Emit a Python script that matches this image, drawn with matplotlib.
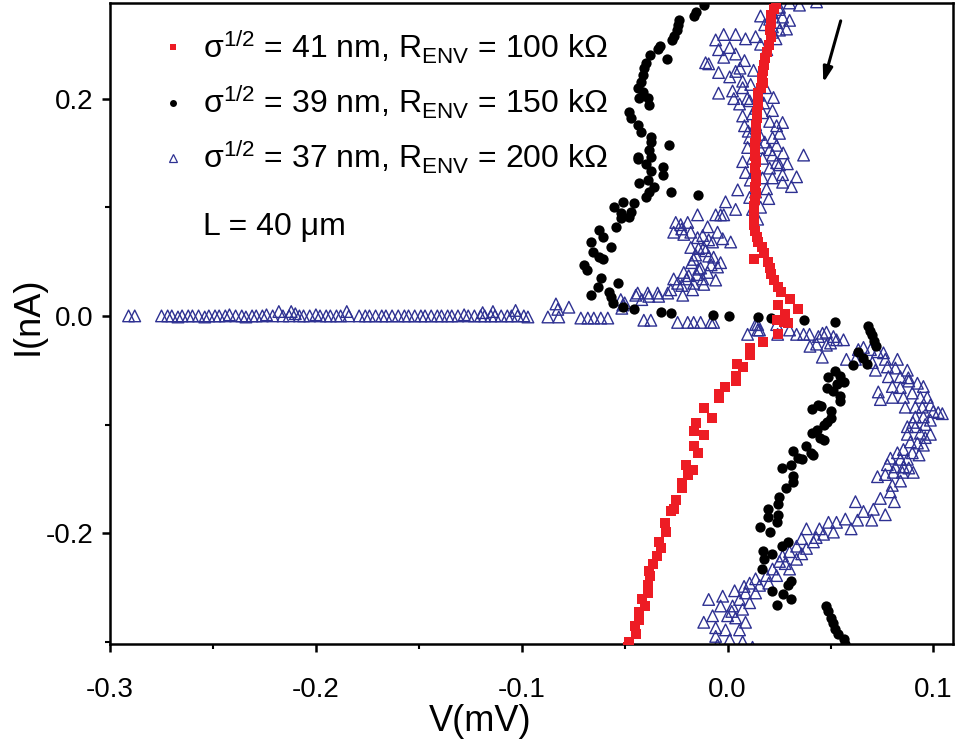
import numpy as np
import matplotlib
matplotlib.use("Agg")
import matplotlib.pyplot as plt
from matplotlib.lines import Line2D

plt.rcParams['font.family'] = ['Liberation Sans', 'DejaVu Sans']
plt.rcParams['mathtext.fontset'] = 'custom'
plt.rcParams['mathtext.rm'] = 'Liberation Sans'
plt.rcParams['mathtext.it'] = 'Liberation Sans'

# I-V curves, V in mV, I in nA
red_pts = [
    (0.0233, 0.287), (0.0223, 0.282), (0.0213, 0.277), (0.0209, 0.270), (0.0204, 0.263),
    (0.0209, 0.257), (0.0199, 0.249), (0.0189, 0.243), (0.0184, 0.237), (0.0179, 0.231),
    (0.0170, 0.225), (0.0165, 0.219), (0.0170, 0.214), (0.0160, 0.210), (0.0150, 0.205),
    (0.0146, 0.200), (0.0146, 0.194), (0.0141, 0.188), (0.0141, 0.182), (0.0136, 0.176),
    (0.0136, 0.170), (0.0136, 0.165), (0.0131, 0.159), (0.0131, 0.153), (0.0131, 0.147),
    (0.0136, 0.142), (0.0131, 0.136), (0.0136, 0.130), (0.0136, 0.124), (0.0131, 0.119),
    (0.0136, 0.113), (0.0131, 0.107), (0.0126, 0.101), (0.0126, 0.096), (0.0126, 0.090),
    (0.0126, 0.084), (0.0131, 0.078), (0.0141, 0.073), (0.0150, 0.068), (0.0165, 0.063),
    (0.0179, 0.058), (0.0126, 0.052), (0.0194, 0.050), (0.0204, 0.044), (0.0209, 0.039),
    (0.0223, 0.033), (0.0243, 0.027), (0.0257, 0.022), (0.0301, 0.016), (0.0247, 0.010),
    (0.0340, 0.006), (0.0281, 0.002), (0.0238, -0.004), (0.0272, -0.006), (0.0291, -0.007),
    (0.0243, -0.017), (0.0170, -0.024), (0.0107, -0.030), (0.0107, -0.036), (0.0044, -0.044),
    (0.0073, -0.047), (0.0039, -0.055), (0.0039, -0.060), (-0.0015, -0.065), (-0.0044, -0.072),
    (-0.0044, -0.076), (-0.0116, -0.085), (-0.0078, -0.094), (-0.0155, -0.099), (-0.0165, -0.106),
    (-0.0116, -0.110), (-0.0165, -0.120), (-0.0146, -0.126), (-0.0204, -0.137), (-0.0170, -0.142),
    (-0.0194, -0.146), (-0.0223, -0.154), (-0.0223, -0.158), (-0.0252, -0.169), (-0.0262, -0.178),
    (-0.0276, -0.180), (-0.0306, -0.191), (-0.0301, -0.199), (-0.0335, -0.208), (-0.0325, -0.214),
    (-0.0344, -0.221), (-0.0364, -0.228), (-0.0383, -0.235), (-0.0378, -0.239), (-0.0388, -0.248),
    (-0.0388, -0.255), (-0.0417, -0.261), (-0.0403, -0.267), (-0.0432, -0.273), (-0.0432, -0.280),
    (-0.0451, -0.285), (-0.0446, -0.293), (-0.0480, -0.300), (-0.0485, -0.305),
]

black_pts = [
    (-0.0116, 0.286), (-0.0155, 0.280), (-0.0165, 0.276), (-0.0238, 0.272), (-0.0243, 0.268),
    (-0.0247, 0.263), (-0.0262, 0.258), (-0.0272, 0.254), (-0.0330, 0.248), (-0.0340, 0.246),
    (-0.0378, 0.240), (-0.0296, 0.236), (-0.0398, 0.233), (-0.0407, 0.228), (-0.0412, 0.222),
    (-0.0422, 0.215), (-0.0437, 0.210), (-0.0412, 0.206), (-0.0432, 0.201), (-0.0388, 0.201),
    (-0.0383, 0.194), (-0.0480, 0.188), (-0.0470, 0.182), (-0.0437, 0.176), (-0.0422, 0.169),
    (-0.0373, 0.165), (-0.0373, 0.160), (-0.0286, 0.157), (-0.0383, 0.153), (-0.0437, 0.146),
    (-0.0373, 0.146), (-0.0437, 0.144), (-0.0398, 0.140), (-0.0315, 0.137), (-0.0373, 0.133),
    (-0.0315, 0.130), (-0.0388, 0.125), (-0.0432, 0.122), (-0.0359, 0.119), (-0.0383, 0.114),
    (-0.0276, 0.114), (-0.0146, 0.111), (-0.0398, 0.109), (-0.0509, 0.105), (-0.0456, 0.104),
    (-0.0553, 0.100), (-0.0470, 0.096), (-0.0519, 0.095), (-0.0480, 0.091), (-0.0519, 0.090),
    (-0.0543, 0.082), (-0.0626, 0.079), (-0.0606, 0.073), (-0.0664, 0.068), (-0.0567, 0.063),
    (-0.0655, 0.059), (-0.0626, 0.054), (-0.0606, 0.052), (-0.0698, 0.047), (-0.0684, 0.042),
    (-0.0616, 0.035), (-0.0534, 0.030), (-0.0631, 0.027), (-0.0577, 0.022), (-0.0664, 0.019),
    (-0.0567, 0.017), (-0.0558, 0.012), (-0.0509, 0.008), (-0.0456, 0.006), (-0.0325, 0.004),
    (-0.0276, 0.003), (-0.0073, 0.001), (0.0005, 0.000), (0.0150, -0.001), (0.0209, -0.002),
    (0.0369, -0.004), (0.0524, -0.006),
    (0.0684, -0.009), (0.0694, -0.014), (0.0703, -0.018), (0.0713, -0.023), (0.0723, -0.028),
    (0.0631, -0.033), (0.0660, -0.039), (0.0679, -0.044), (0.0611, -0.045), (0.0524, -0.051),
    (0.0548, -0.055), (0.0490, -0.056), (0.0563, -0.061), (0.0529, -0.063), (0.0485, -0.066),
    (0.0514, -0.069), (0.0548, -0.074), (0.0548, -0.078), (0.0441, -0.082), (0.0456, -0.083),
    (0.0412, -0.086), (0.0500, -0.088), (0.0500, -0.094), (0.0485, -0.098), (0.0466, -0.100),
    (0.0432, -0.105), (0.0412, -0.108), (0.0451, -0.112), (0.0466, -0.114), (0.0383, -0.120),
    (0.0320, -0.124), (0.0403, -0.126), (0.0417, -0.128), (0.0344, -0.131), (0.0359, -0.132),
    (0.0310, -0.137), (0.0262, -0.140), (0.0320, -0.147), (0.0320, -0.153), (0.0286, -0.158),
    (0.0252, -0.167), (0.0243, -0.173), (0.0194, -0.178), (0.0243, -0.183), (0.0194, -0.185),
    (0.0238, -0.190), (0.0155, -0.194), (0.0204, -0.199), (0.0291, -0.208), (0.0262, -0.212),
    (0.0170, -0.216), (0.0218, -0.219), (0.0179, -0.224), (0.0165, -0.233), (0.0310, -0.244),
    (0.0291, -0.248), (0.0218, -0.253), (0.0267, -0.256), (0.0310, -0.261), (0.0238, -0.266),
    (0.0480, -0.267), (0.0490, -0.272), (0.0504, -0.278), (0.0514, -0.283), (0.0524, -0.288),
    (0.0538, -0.293), (0.0563, -0.297), (0.0572, -0.302),
]

# flat branch at I = 0 for large negative V
blue_flat = [
    (-0.291, 0.000), (-0.288, 0.000),
    (-0.275, 0.000), (-0.272, 0.000), (-0.270, 0.000), (-0.267, -0.001), (-0.265, 0.000),
    (-0.262, 0.000), (-0.260, 0.000), (-0.257, 0.000), (-0.254, -0.001), (-0.252, 0.000),
    (-0.249, 0.000), (-0.247, 0.000), (-0.244, 0.000), (-0.242, 0.001), (-0.239, 0.000),
    (-0.236, 0.000), (-0.234, -0.001), (-0.231, 0.000), (-0.229, 0.000), (-0.226, 0.000),
    (-0.224, 0.001), (-0.221, 0.000), (-0.218, 0.004), (-0.216, 0.000), (-0.213, 0.000),
    (-0.212, 0.004), (-0.210, 0.002), (-0.208, 0.000), (-0.206, 0.000), (-0.203, 0.000),
    (-0.200, 0.001), (-0.198, 0.000), (-0.195, 0.000), (-0.193, 0.000), (-0.190, 0.000),
    (-0.188, 0.000), (-0.185, 0.004), (-0.184, 0.000),
    (-0.179, 0.000), (-0.176, 0.000), (-0.174, 0.000), (-0.171, 0.000), (-0.168, 0.000),
    (-0.166, 0.000), (-0.163, 0.000), (-0.160, 0.000), (-0.157, 0.000), (-0.155, 0.000),
    (-0.152, 0.000), (-0.149, 0.000), (-0.147, 0.000), (-0.144, 0.000), (-0.141, 0.000),
    (-0.139, 0.000), (-0.136, 0.000),
    (-0.134, 0.000), (-0.131, 0.000), (-0.128, 0.001), (-0.126, 0.000), (-0.123, 0.000),
    (-0.120, 0.000), (-0.119, 0.003), (-0.118, 0.000), (-0.115, 0.000), (-0.114, 0.004),
    (-0.113, 0.000), (-0.110, 0.000), (-0.107, 0.000), (-0.105, 0.000), (-0.103, 0.005),
    (-0.102, 0.000), (-0.099, 0.000), (-0.097, -0.001),
    (-0.0873, -0.001), (-0.0834, 0.011), (-0.0825, 0.006), (-0.0820, -0.001), (-0.0771, 0.008),
    (-0.0713, -0.002), (-0.0679, -0.002), (-0.0650, -0.002), (-0.0616, -0.002), (-0.0582, -0.002),
    (-0.0519, 0.015), (-0.0509, 0.010), (-0.0407, -0.004), (-0.0373, -0.004), (-0.0243, -0.006),
    (-0.0194, -0.006), (-0.0165, -0.006), (-0.0131, -0.006), (-0.0082, -0.006), (-0.0068, -0.006),
    (0.0097, -0.017), (0.0146, -0.008), (0.0146, -0.013),
]

# loop that rises from I = 0 and doubles back near V = 0
blue_lobe = [
    (-0.0437, 0.021), (-0.0388, 0.021), (-0.0340, 0.021), (-0.0291, 0.021), (-0.0218, 0.019),
    (-0.0170, 0.024), (-0.0500, 0.012), (-0.0417, 0.015), (-0.0335, 0.018), (-0.0276, 0.024),
    (-0.0262, 0.034), (-0.0223, 0.028), (-0.0189, 0.037), (-0.0121, 0.034), (-0.0141, 0.043),
    (-0.0175, 0.049), (-0.0092, 0.055), (-0.0034, 0.049), (-0.0141, 0.062), (-0.0179, 0.063),
    (-0.0116, 0.063), (-0.0146, 0.072), (-0.0073, 0.068), (-0.0024, 0.071), (0.0015, 0.068),
    (-0.0121, 0.074), (-0.0179, 0.077), (-0.0223, 0.080), (-0.0252, 0.086), (-0.0194, 0.086),
    (-0.0146, 0.093), (-0.0058, 0.093), (-0.0019, 0.093), (0.0039, 0.098), (-0.0010, 0.105),
    (-0.0262, 0.077), (-0.0213, 0.075), (-0.0092, 0.070), (-0.0049, 0.077), (-0.0068, 0.054),
    (-0.0165, 0.052), (-0.0131, 0.044), (-0.0213, 0.040), (-0.0097, 0.040), (-0.0049, 0.045),
    (-0.0165, 0.030), (-0.0116, 0.029), (-0.0058, 0.033), (-0.0243, 0.030), (-0.0228, 0.084),
    (-0.0097, 0.082), (-0.0034, 0.093), (-0.0514, 0.007), (-0.0446, 0.019), (-0.0383, 0.018),
    (-0.0155, 0.056), (-0.0107, 0.060), (-0.0200, 0.034), (-0.0080, 0.047), (-0.0150, 0.038),
]

blue_upper = [
    (0.0301, 0.288), (0.0349, 0.286), (0.0432, 0.289), (0.0252, 0.284), (0.0218, 0.279),
    (0.0204, 0.273), (0.0238, 0.270), (0.0267, 0.275), (0.0301, 0.272), (0.0218, 0.266),
    (0.0252, 0.263), (0.0286, 0.264), (0.0218, 0.261), (-0.0058, 0.254), (-0.0019, 0.259),
    (0.0039, 0.259), (0.0087, 0.255), (0.0136, 0.257), (-0.0092, 0.232), (-0.0044, 0.245),
    (-0.0019, 0.238), (0.0010, 0.247), (0.0039, 0.241), (0.0082, 0.235), (-0.0044, 0.224),
    (0.0010, 0.220), (0.0039, 0.225), (0.0073, 0.216), (-0.0044, 0.205), (0.0024, 0.207),
    (0.0073, 0.210), (0.0112, 0.213), (0.0058, 0.195), (0.0107, 0.198), (0.0136, 0.191),
    (0.0073, 0.184), (0.0121, 0.186), (0.0170, 0.187), (0.0218, 0.189), (0.0082, 0.175),
    (0.0136, 0.176), (0.0204, 0.179), (0.0238, 0.175), (0.0267, 0.178), (0.0107, 0.164),
    (0.0155, 0.167), (0.0218, 0.164), (0.0252, 0.168), (0.0097, 0.155), (0.0155, 0.155),
    (0.0204, 0.153), (0.0238, 0.157), (0.0369, 0.148), (0.0073, 0.142), (0.0121, 0.145),
    (0.0170, 0.145), (0.0218, 0.148), (0.0238, 0.141), (0.0087, 0.132), (0.0136, 0.136),
    (0.0204, 0.136), (0.0252, 0.139), (0.0267, 0.130), (0.0170, 0.127), (0.0218, 0.127),
    (0.0335, 0.128), (0.0310, 0.119), (0.0267, 0.123), (0.0136, 0.114), (0.0189, 0.117),
    (0.0049, 0.116), (0.0107, 0.109), (0.0121, 0.098), (0.0146, 0.089), (-0.0107, 0.233),
    (0.0126, 0.226), (0.0223, 0.201), (0.0184, 0.210),
    (0.0160, 0.250), (0.0190, 0.245), (0.0180, 0.268), (0.0160, 0.276), (0.0235, 0.255),
    (0.0060, 0.228), (0.0095, 0.200), (0.0150, 0.203), (0.0175, 0.196), (0.0100, 0.170),
    (0.0180, 0.160), (0.0110, 0.125), (0.0200, 0.108), (0.0160, 0.100), (0.0270, 0.150),
    (0.0290, 0.140), (0.0030, 0.200), (0.0250, 0.282),
]

# excursion to positive V on the negative current side
blue_right = [
    (0.0136, -0.008), (0.0155, -0.013), (0.0238, -0.008), (0.0243, -0.017), (0.0301, -0.013),
    (0.0335, -0.017), (0.0369, -0.017), (0.0398, -0.017), (0.0441, -0.019), (0.0432, -0.026),
    (0.0480, -0.015), (0.0514, -0.019), (0.0480, -0.027), (0.0529, -0.022), (0.0563, -0.022),
    (0.0500, -0.025), (0.0461, -0.016), (0.0577, -0.040),
    (0.0621, -0.040), (0.0635, -0.031), (0.0660, -0.029), (0.0694, -0.031), (0.0728, -0.033),
    (0.0757, -0.034), (0.0766, -0.040), (0.0703, -0.043), (0.0718, -0.050), (0.0776, -0.047),
    (0.0825, -0.040), (0.0815, -0.048), (0.0873, -0.050), (0.0781, -0.056), (0.0839, -0.056),
    (0.0878, -0.057), (0.0922, -0.062), (0.0951, -0.065), (0.0732, -0.070), (0.0742, -0.077),
    (0.0800, -0.065), (0.0800, -0.075), (0.0839, -0.066), (0.0854, -0.075), (0.0897, -0.071),
    (0.0936, -0.075), (0.0970, -0.075), (0.0863, -0.084), (0.0912, -0.084), (0.0946, -0.084),
    (0.0985, -0.082), (0.1023, -0.089), (0.1043, -0.090), (0.0999, -0.088), (0.0912, -0.093),
    (0.0951, -0.093), (0.0985, -0.096), (0.0873, -0.102), (0.0912, -0.102), (0.0960, -0.100),
    (0.0936, -0.108), (0.0985, -0.109), (0.0873, -0.109), (0.0888, -0.116), (0.0922, -0.117),
    (0.0951, -0.119), (0.0854, -0.123), (0.0825, -0.126), (0.0897, -0.126), (0.0791, -0.131),
    (0.0839, -0.132), (0.0873, -0.132), (0.0776, -0.137), (0.0815, -0.139), (0.0854, -0.139),
    (0.0902, -0.144), (0.0728, -0.148), (0.0766, -0.146), (0.0805, -0.144), (0.0849, -0.144),
    (0.0791, -0.162), (0.0742, -0.168), (0.0810, -0.171), (0.0766, -0.183), (0.0708, -0.178),
    (0.0660, -0.180), (0.0621, -0.171), (0.0631, -0.188), (0.0572, -0.187), (0.0529, -0.190),
    (0.0490, -0.190), (0.0446, -0.196), (0.0466, -0.201), (0.0514, -0.199), (0.0383, -0.196),
    (0.0359, -0.205), (0.0417, -0.208), (0.0335, -0.212), (0.0383, -0.214), (0.0301, -0.217),
    (0.0267, -0.221), (0.0335, -0.224), (0.0252, -0.226), (0.0301, -0.233), (0.0218, -0.233),
    (0.0189, -0.239), (0.0238, -0.239), (0.0136, -0.242), (0.0155, -0.248), (0.0107, -0.246),
    (0.0087, -0.255), (0.0136, -0.255), (0.0058, -0.261), (0.0034, -0.253), (0.0107, -0.264),
    (-0.0024, -0.258), (-0.0092, -0.261), (-0.0034, -0.267), (0.0024, -0.267), (0.0073, -0.270),
    (-0.0116, -0.282), (-0.0073, -0.276), (0.0000, -0.276), (0.0039, -0.278), (0.0087, -0.282),
    (-0.0058, -0.287), (-0.0010, -0.289), (0.0058, -0.289), (-0.0058, -0.295), (0.0010, -0.298),
    (0.0073, -0.300), (-0.0049, -0.303), (0.0121, -0.305),
    (0.0880, -0.060), (0.0900, -0.098), (0.0960, -0.112), (0.0930, -0.128), (0.0880, -0.140),
    (0.0840, -0.152), (0.0800, -0.156), (0.0700, -0.188), (0.0600, -0.196), (0.0430, -0.204),
    (0.0360, -0.219), (0.0280, -0.228), (0.0200, -0.246), (0.0080, -0.249), (0.0020, -0.272),
    (0.0460, -0.038), (0.0400, -0.028),
]

labels = [
    'σ$^{1/2}$ = 41 nm, R$_{\\mathrm{ENV}}$ = 100 kΩ',
    'σ$^{1/2}$ = 39 nm, R$_{\\mathrm{ENV}}$ = 150 kΩ',
    'σ$^{1/2}$ = 37 nm, R$_{\\mathrm{ENV}}$ = 200 kΩ',
]

red_c = '#ed1c24'
blue_c = '#2e3192'

fig = plt.figure(figsize=(9.56, 7.44), dpi=100)
ax = fig.add_axes([0.1151, 0.1344, 0.8818, 0.8616])

blue = np.array(blue_flat + blue_lobe + blue_upper + blue_right)
red = np.array(red_pts)
black = np.array(black_pts)

ax.scatter(blue[:, 0], blue[:, 1], s=70, marker='^', facecolors='none',
           edgecolors=blue_c, linewidths=1.0, zorder=2)
ax.scatter(black[:, 0], black[:, 1], s=55, marker='o', color='black',
           linewidths=0, zorder=3)
ax.scatter(red[:, 0], red[:, 1], s=42, marker='s', color=red_c,
           linewidths=0, zorder=4)

handles = [
    Line2D([], [], ls='none', marker='s', ms=5, color=red_c, mew=0),
    Line2D([], [], ls='none', marker='o', ms=5, color='black', mew=0),
    Line2D([], [], ls='none', marker='^', ms=6, mfc='none', mec=blue_c, mew=0.9),
]
ax.legend(handles, labels, loc='upper left', bbox_to_anchor=(0.035, 0.99),
          frameon=False, fontsize=23, handlelength=0.9, handletextpad=0.5,
          labelspacing=0.57, borderaxespad=0.2)
ax.text(0.110, 0.650, 'L = 40 μm', transform=ax.transAxes, fontsize=23,
        va='center', ha='left')

# sweep direction
ax.annotate('', xy=(0.0461, 0.212), xytext=(0.0553, 0.274),
            arrowprops=dict(arrowstyle='-|>,head_length=0.9,head_width=0.28',
                            color='black', lw=2.2))

ax.set_xlim(-0.3, 0.1095)
ax.set_ylim(-0.302, 0.288)
ax.set_xticks([-0.3, -0.2, -0.1, 0.0, 0.1])
ax.set_xticklabels(['-0.3', '-0.2', '-0.1', '0.0', '0.1'])
ax.set_xticks([-0.25, -0.15, -0.05, 0.05], minor=True)
ax.set_yticks([-0.2, 0.0, 0.2])
ax.set_yticklabels(['-0.2', '0.0', '0.2'])
ax.set_yticks([-0.3, -0.1, 0.1], minor=True)

for sp in ax.spines.values():
    sp.set_linewidth(1.8)
ax.tick_params(which='major', direction='out', length=6, width=1.8,
               labelsize=20, pad=6)
ax.tick_params(axis='x', which='major', pad=18)
ax.tick_params(which='minor', direction='out', length=3.5, width=1.5)

ax.set_xlabel('V(mV)', fontsize=26, va='top')
ax.xaxis.set_label_coords(0.439, -0.094)
ax.set_ylabel('I(nA)', fontsize=26)
ax.yaxis.set_label_coords(-0.076, 0.512)

fig.savefig('out.png', dpi=100)
